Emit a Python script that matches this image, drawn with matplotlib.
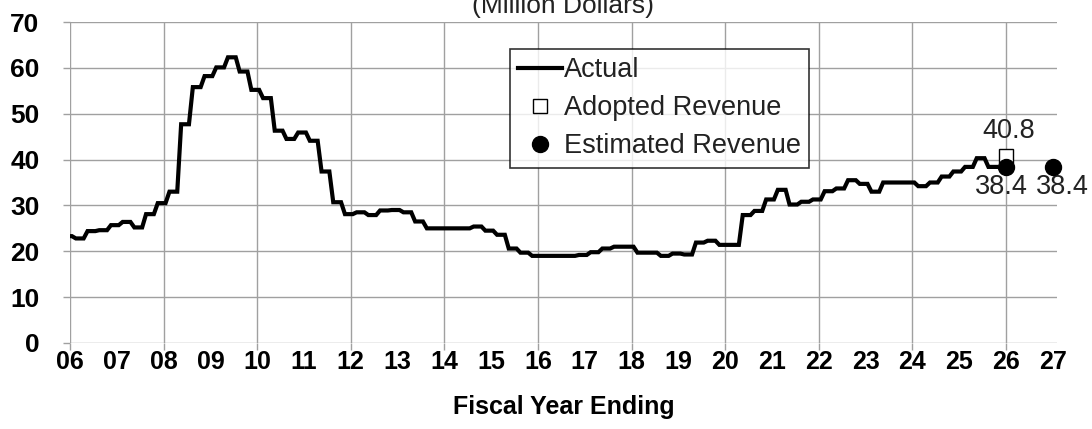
import numpy as np
import matplotlib
matplotlib.use("Agg")
import matplotlib.pyplot as plt
from matplotlib.lines import Line2D

plt.rcParams['font.family'] = ['Liberation Sans', 'DejaVu Sans']

# quarterly actual revenue (million dollars), from FY2006 Q1 onward
actual_q = [23.3, 22.8, 24.4, 24.6, 25.7, 26.4, 25.2, 28.1,
            30.5, 33.0, 47.7, 55.8, 58.2, 60.1, 62.3, 59.2,
            55.2, 53.4, 46.3, 44.5, 45.9, 44.1, 37.4, 30.7,
            28.1, 28.5, 27.9, 28.9, 29.0, 28.5, 26.5, 25.0,
            25.0, 25.0, 25.0, 25.4, 24.5, 23.6, 20.6, 19.7,
            19.0, 19.0, 19.0, 19.0, 19.2, 19.8, 20.6, 21.0,
            21.0, 19.7, 19.7, 19.0, 19.5, 19.3, 21.9, 22.3,
            21.4, 21.4, 27.9, 28.8, 31.3, 33.4, 30.2, 30.8,
            31.3, 33.1, 33.7, 35.5, 34.7, 33.0, 35.0, 35.0,
            35.0, 34.2, 35.0, 36.3, 37.4, 38.4, 40.3, 38.4]
start_year = 2005.875

adopted_x = [2026]
adopted_y = [40.8]
estimated_x = [2026, 2027]
estimated_y = [38.4, 38.4]

years = list(range(2006, 2028))
year_labels = ['%02d' % (y % 100) for y in years]

# monthly series (each quarterly value holds for three months)
monthly = np.repeat(actual_q, 3)
mx = start_year + np.arange(len(monthly)) / 12

fig = plt.figure(figsize=(10.92, 4.29), dpi=100)
ax = fig.add_axes([70/1092, 1 - 343/429, 987/1092, 321/429])

grid_c = '#a0a0a0'
txt_c = '#222222'
ax.plot(mx, monthly, color='black', lw=3, solid_joinstyle='miter', zorder=3)
ax.plot(adopted_x, adopted_y, 's', ms=10.5, mfc='white', mec='black', mew=1.0,
        zorder=4, clip_on=False)
ax.plot(estimated_x, estimated_y, 'o', ms=11.5, color='black', zorder=5, clip_on=False)

lab_kw = dict(textcoords='offset points', fontsize=19.5, color=txt_c,
              ha='center', va='baseline', annotation_clip=False)
ax.annotate('%.1f' % adopted_y[0], (adopted_x[0], adopted_y[0]), xytext=(2, 13), **lab_kw)
ax.annotate('%.1f' % estimated_y[0], (estimated_x[0], estimated_y[0]), xytext=(-3.5, -19.5), **lab_kw)
ax.annotate('%.1f' % estimated_y[1], (estimated_x[1], estimated_y[1]), xytext=(7, -19.5), **lab_kw)

ax.set_xlim(2006, 2027.09)
ax.set_ylim(0, 70)
for s in ax.spines.values():
    s.set_visible(False)

ax.set_xticks([y for y in years if y % 2 == 0])
ax.set_xticks([y for y in years if y % 2 == 1], minor=True)
ax.set_xticklabels([l for y, l in zip(years, year_labels) if y % 2 == 0])
ax.set_xticklabels([l for y, l in zip(years, year_labels) if y % 2 == 1], minor=True)
ax.tick_params(axis='x', which='major', length=5, width=1, color=grid_c, pad=0,
               labelsize=18, direction='out')
ax.tick_params(axis='x', which='minor', length=0, pad=5, labelsize=18)
for t in ax.get_xticklabels(which='both'):
    t.set_fontweight('bold')

ax.set_yticks(range(0, 71, 10))
ax.tick_params(axis='y', length=5, width=1, color=grid_c, pad=17, labelsize=19)
for t in ax.get_yticklabels():
    t.set_fontweight('bold')

ax.grid(True, which='major', color=grid_c, lw=1)
ax.set_axisbelow(True)

ax.set_xlabel('Fiscal Year Ending', fontsize=18, fontweight='bold', labelpad=15)
fig.text(ax.get_position().x0 + ax.get_position().width / 2, 1 - 12.5/429,
         '(Million Dollars)', ha='center', va='baseline', fontsize=19, color=txt_c)

handles = [Line2D([], [], color='black', lw=3),
           Line2D([], [], ls='none', marker='s', ms=10, mfc='white', mec='black', mew=1.0),
           Line2D([], [], ls='none', marker='o', ms=11.5, color='black')]
leg = ax.legend(handles, ['Actual', 'Adopted Revenue', 'Estimated Revenue'],
                loc='upper left', bbox_to_anchor=(0.446, 0.916), borderaxespad=0,
                fontsize=19.5, frameon=True, fancybox=False, handlelength=1.6,
                handletextpad=0.1, labelspacing=0.45, borderpad=0.3)
leg.get_frame().set_edgecolor('black')
leg.get_frame().set_linewidth(1.2)
for t in leg.get_texts():
    t.set_color(txt_c)

fig.savefig('out.png', dpi=100)
